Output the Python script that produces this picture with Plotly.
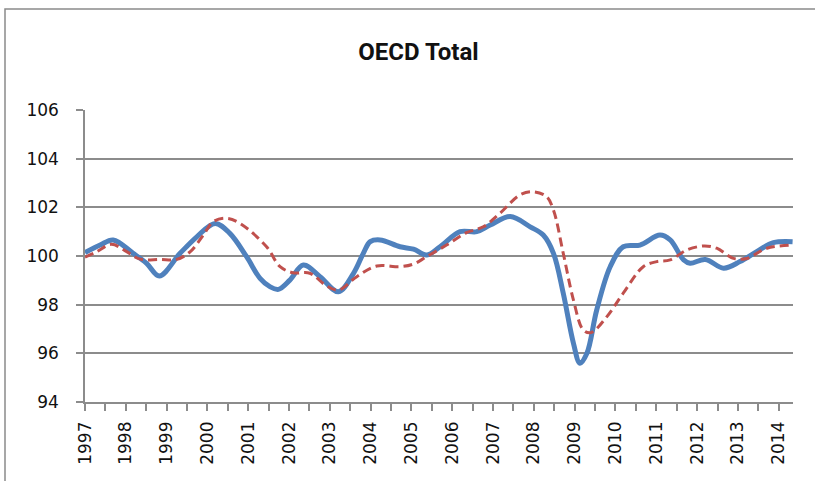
import plotly.graph_objects as go

# Blue series (solid) - decimal year, index value
blue_t = [1997.0, 1997.37, 1997.69, 1998.18, 1998.51, 1998.82, 1999.33, 1999.74, 2000.19,
          2000.55, 2000.96, 2001.29, 2001.53, 2001.74, 2002.02, 2002.35, 2002.76, 2003.21,
          2003.58, 2003.82, 2003.99, 2004.23, 2004.72, 2005.05, 2005.37, 2005.7, 2006.19,
          2006.6, 2006.93, 2007.42, 2007.91, 2008.23, 2008.48, 2008.72, 2008.97, 2009.13,
          2009.3, 2009.54, 2009.87, 2010.19, 2010.6, 2011.09, 2011.34, 2011.67, 2011.83,
          2012.2, 2012.65, 2013.05, 2013.46, 2013.87, 2014.34]
blue_v = [100.14, 100.45, 100.66, 100.11, 99.70, 99.18, 100.11, 100.79, 101.34,
          100.93, 99.97, 99.08, 98.74, 98.63, 99.01, 99.63, 99.15, 98.53,
          99.29, 100.11, 100.59, 100.66, 100.38, 100.28, 100.04, 100.38, 101.00,
          101.00, 101.27, 101.62, 101.20, 100.86, 100.11, 98.47, 96.41, 95.59,
          96.00, 97.78, 99.56, 100.38, 100.45, 100.86, 100.66, 99.84, 99.70,
          99.86, 99.50, 99.77, 100.18, 100.55, 100.59]

# Red series (dashed)
red_t = [1997.0, 1997.29, 1997.65, 1998.02, 1998.35, 1998.84, 1999.25, 1999.58, 1999.9,
         2000.14, 2000.47, 2000.8, 2001.45, 2001.78, 2002.1, 2002.51, 2002.92, 2003.21,
         2003.66, 2004.15, 2004.72, 2005.05, 2005.37, 2005.86, 2006.35, 2006.76, 2007.17,
         2007.66, 2007.99, 2008.31, 2008.48, 2008.72, 2008.97, 2009.21, 2009.4, 2009.79,
         2010.19, 2010.68, 2011.01, 2011.34, 2011.75, 2012.16, 2012.48, 2012.89, 2013.22,
         2013.71, 2014.34]
red_v = [99.95, 100.18, 100.48, 100.18, 99.87, 99.86, 99.86, 100.18, 100.86,
         101.41, 101.55, 101.34, 100.38, 99.56, 99.31, 99.29, 98.77, 98.60,
         99.15, 99.59, 99.56, 99.67, 99.97, 100.45, 100.96, 101.20, 101.76,
         102.51, 102.64, 102.44, 101.89, 100.11, 98.19, 96.96, 96.85, 97.51,
         98.47, 99.56, 99.77, 99.84, 100.25, 100.41, 100.32, 99.90, 99.90,
         100.32, 100.45]

year_ticks = list(range(1997, 2015))
year_labels = [str(y) for y in year_ticks]
y_ticks = [94, 96, 98, 100, 102, 104, 106]

W, H = 815, 481
L, R, T, B = 85, 22, 110, 79
pw, ph = W - L - R, H - T - B

fig = go.Figure()
fig.add_trace(go.Scatter(x=blue_t, y=blue_v, mode="lines",
                         line=dict(color="#4F81BD", width=5, shape="spline", smoothing=1.0),
                         showlegend=False, hoverinfo="skip"))
fig.add_trace(go.Scatter(x=red_t, y=red_v, mode="lines",
                         line=dict(color="#C0504D", width=3, dash="9px,5px",
                                   shape="spline", smoothing=1.0),
                         showlegend=False, hoverinfo="skip"))

gray = "#8C8C8C"
tick_font = dict(family="DejaVu Sans", size=17, color="#111")
fig.update_layout(
    width=W, height=H,
    margin=dict(l=L, r=R, t=T, b=B),
    paper_bgcolor="white", plot_bgcolor="white",
    title=dict(text="<b>OECD Total</b>", x=418.5 / W, xanchor="center", y=1 - 52 / H, yanchor="middle",
               font=dict(family="Roboto, Liberation Sans, Arial", size=24, color="#111")),
    xaxis=dict(range=[1997, 2014.35], tickvals=year_ticks, ticktext=year_labels,
               tickangle=-90, showgrid=False, zeroline=False,
               showline=True, linecolor=gray, linewidth=1.5,
               ticks="outside", ticklen=7, tickcolor=gray, tickwidth=1.5,
               minor=dict(ticks="outside", dtick=0.5, tick0=1997, ticklen=7,
                          tickcolor=gray, tickwidth=1.5, showgrid=False),
               tickfont=tick_font, ticklabelstandoff=4),
    yaxis=dict(range=[94, 106], tickvals=y_ticks, showgrid=True, gridcolor=gray, gridwidth=1.5,
               zeroline=False, showline=True, linecolor=gray, linewidth=1.5,
               ticks="outside", ticklen=7, tickcolor=gray, tickwidth=1.5,
               tickfont=tick_font, ticklabelstandoff=14),
    shapes=[dict(type="path", xref="paper", yref="paper",
                 path=f"M {(5 - L) / pw} {-(H - T - ph + 10) / ph} L {(5 - L) / pw} {(H - B - 9) / ph} L {(W + 10 - L) / pw} {(H - B - 9) / ph}",
                 line=dict(color="#8A8A8A", width=1.5))],
)

fig.write_html("out.html", config={"displayModeBar": False},
               post_script="document.body.style.margin='0px';document.body.style.overflow='hidden';")
